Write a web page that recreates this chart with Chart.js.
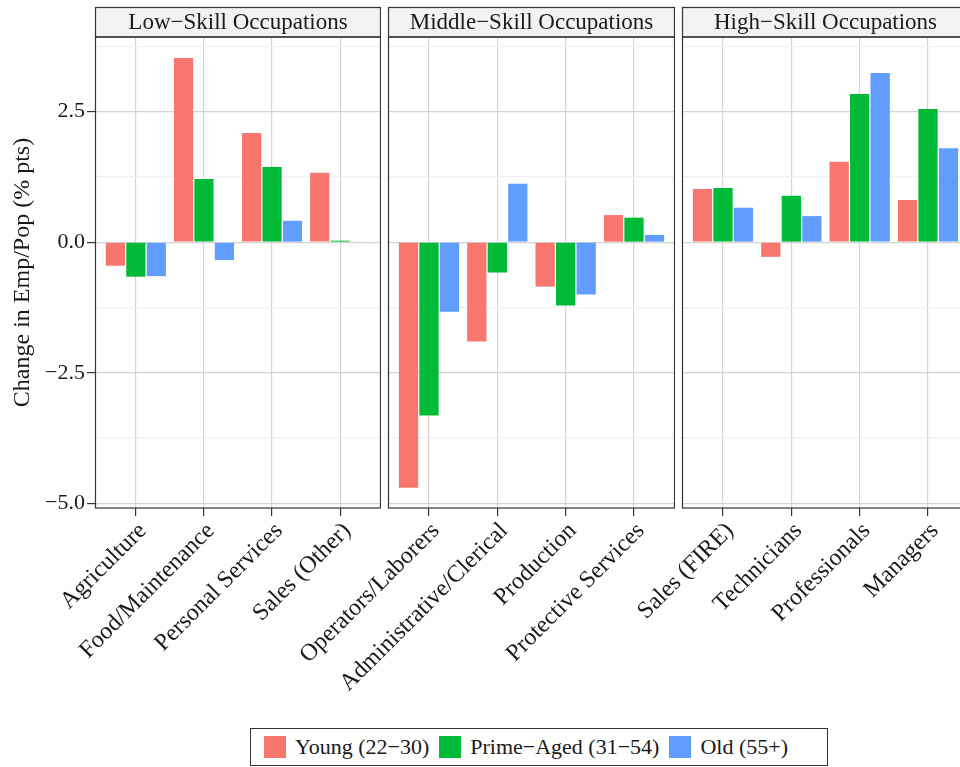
<!DOCTYPE html>
<html lang="en">
<head>
<meta charset="UTF-8">
<title>Change in Emp/Pop by Occupation Group</title>
<script src="https://cdn.jsdelivr.net/npm/chart.js"></script>
<style>
    body { margin: 0; background: #fff; }
    #wrap { position: relative; width: 960px; height: 767px; overflow: hidden; font-family: "Liberation Serif", serif; }
    #wrap canvas { position: absolute; top: 0; }
    #legend {
        position: absolute; left: 250px; top: 728px; width: 563px; height: 36px;
        border: 1.3px solid #333; display: flex; align-items: center; padding-left: 13px;
        box-sizing: content-box; font-size: 22px; color: #1a1a1a;
    }
    #legend .key { width: 22px; height: 22px; margin-right: 9px; }
    #legend .lab { margin-right: 10px; }
</style>
</head>
<body>
<div id="wrap">
    <canvas id="p1" width="381" height="725" style="left:0px"></canvas>
    <canvas id="p2" width="487" height="725" style="left:188px"></canvas>
    <canvas id="p3" width="487" height="725" style="left:482px"></canvas>
    <div id="legend"></div>
</div>

<script>
// facet titles and categories
const groups = ['Low−Skill Occupations', 'Middle−Skill Occupations', 'High−Skill Occupations'];
const lowCats = ['Agriculture', 'Food/Maintenance', 'Personal Services', 'Sales (Other)'];
const midCats = ['Operators/Laborers', 'Administrative/Clerical', 'Production', 'Protective Services'];
const highCats = ['Sales (FIRE)', 'Technicians', 'Professionals', 'Managers'];

const seriesNames = ['Young (22−30)', 'Prime−Aged (31−54)', 'Old (55+)'];
const colors = ['#F8766D', '#00BA38', '#619CFF'];

// change in emp/pop, % pts
const lowYoung = [-0.45, 3.53, 2.09, 1.33];
const lowPrime = [-0.66, 1.21, 1.44, 0.03];
const lowOld = [-0.65, -0.34, 0.41, 0.01];

const midYoung = [-4.70, -1.90, -0.85, 0.52];
const midPrime = [-3.32, -0.58, -1.21, 0.47];
const midOld = [-1.33, 1.12, -1.00, 0.14];

const highYoung = [1.02, -0.28, 1.54, 0.81];
const highPrime = [1.04, 0.89, 2.84, 2.55];
const highOld = [0.66, 0.50, 3.24, 1.80];

const yMajor = [-5, -2.5, 0, 2.5];
const yMinor = [-3.75, -1.25, 1.25, 3.75];
const yMin = -5.09, yMax = 3.93;

const FONT = '"Liberation Serif", serif';
const allTicks = yMajor.concat(yMinor).sort((a, b) => a - b);
const isMajor = v => yMajor.indexOf(v) >= 0;
const fmt = v => (v < 0 ? '−' : '') + Math.abs(v).toFixed(1);

// strip on top + panel border
const facetPlugin = {
    id: 'facet',
    afterDraw(chart, args, opts) {
        const c = chart.ctx, a = chart.chartArea;
        c.save();
        c.fillStyle = '#f2f2f2';
        c.fillRect(a.left, 7.5, a.right - a.left, a.top - 7.5);
        c.strokeStyle = '#333';
        c.lineWidth = 1.2;
        c.strokeRect(a.left + 0.5, 7.5, a.right - a.left - 1, a.top - 7.5);
        c.strokeRect(a.left + 0.5, a.top, a.right - a.left - 1, a.bottom - a.top);
        c.fillStyle = '#1a1a1a';
        c.font = '23px ' + FONT;
        c.textAlign = 'center';
        c.textBaseline = 'middle';
        c.fillText(opts.text, (a.left + a.right) / 2, (7.5 + a.top) / 2 + 1);
        c.restore();
    }
};

// left = width kept left of the panel (axis room for panel 1, label room for the others)
function makePanel(id, title, cats, series, first, left) {
    return new Chart(document.getElementById(id), {
        type: 'bar',
        data: {
            datasets: series.map((vals, k) => ({
                label: seriesNames[k],
                data: vals.map((y, i) => ({ x: i, y: y })),
                backgroundColor: colors[k],
                barPercentage: 0.94,
                categoryPercentage: 0.9
            }))
        },
        options: {
            responsive: false,
            animation: false,
            layout: { padding: { top: 37, left: 0, right: 0, bottom: 0 } },
            plugins: {
                legend: { display: false },
                tooltip: { enabled: false },
                facet: { text: title }
            },
            scales: {
                x: {
                    type: 'linear',
                    min: -0.6, max: 3.6,
                    offset: false,
                    afterBuildTicks: s => { s.ticks = cats.map((c, i) => ({ value: i })); },
                    afterFit: s => { s.height = 725 - 508; s.paddingLeft = 0; s.paddingRight = 0; },
                    border: { display: false },
                    grid: { offset: false, color: '#d4d4d4', lineWidth: 1.2, tickLength: 8, tickColor: '#333' },
                    ticks: {
                        autoSkip: false, maxRotation: 45, minRotation: 45, padding: 1, labelOffset: 7,
                        color: '#1a1a1a', font: { family: FONT, size: 24 },
                        callback: v => cats[v]
                    }
                },
                y: {
                    min: yMin, max: yMax,
                    afterBuildTicks: s => { s.ticks = allTicks.map(v => ({ value: v })); },
                    afterFit: s => { s.width = left; s.paddingTop = 0; s.paddingBottom = 0; },
                    border: { display: false },
                    title: {
                        display: first, text: 'Change in Emp/Pop (% pts)', color: '#1a1a1a',
                        font: { family: FONT, size: 24 }, padding: { top: 8, bottom: 0 }
                    },
                    grid: {
                        color: c => isMajor(c.tick.value) ? '#d4d4d4' : '#f0f0f0',
                        lineWidth: 1.2,
                        drawTicks: first,
                        tickLength: 8,
                        tickColor: c => isMajor(c.tick.value) ? '#333' : 'rgba(0,0,0,0)'
                    },
                    ticks: {
                        display: first, padding: 2, color: '#1a1a1a',
                        font: { family: FONT, size: 22 },
                        callback: v => isMajor(v) ? fmt(v) : ''
                    }
                }
            }
        },
        plugins: [facetPlugin]
    });
}

makePanel('p1', groups[0], lowCats, [lowYoung, lowPrime, lowOld], true, 95);
makePanel('p2', groups[1], midCats, [midYoung, midPrime, midOld], false, 200);
makePanel('p3', groups[2], highCats, [highYoung, highPrime, highOld], false, 200);

// legend box
const leg = document.getElementById('legend');
seriesNames.forEach((n, k) => {
    const key = document.createElement('span');
    key.className = 'key';
    key.style.background = colors[k];
    const lab = document.createElement('span');
    lab.className = 'lab';
    lab.textContent = n;
    leg.appendChild(key);
    leg.appendChild(lab);
});
</script>
</body>
</html>
